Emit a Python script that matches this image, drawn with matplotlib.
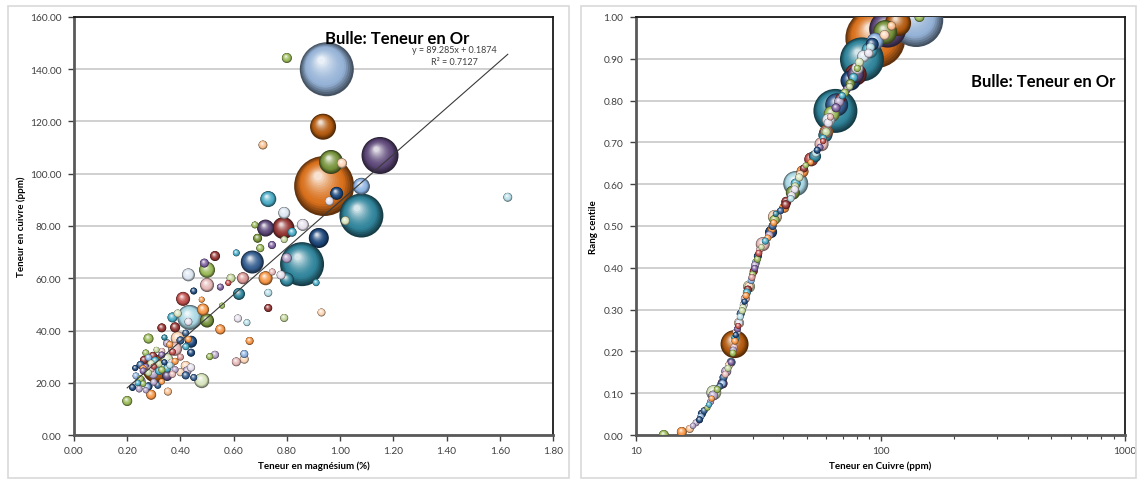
import numpy as np
import matplotlib.pyplot as plt
from matplotlib.colors import to_rgb
from matplotlib.patches import Rectangle
from matplotlib.ticker import FormatStrFormatter, FixedLocator, NullFormatter

plt.rcParams['font.family'] = ['Lato', 'DejaVu Sans']

# magnesium (%), cuivre (ppm), or (g/t) par echantillon
mg = [0.80, 0.95, 0.936, 0.71, 1.15, 0.966, 1.007, 0.94, 1.08, 0.987, 1.63, 0.73, 0.96, 0.79, 1.08,
      1.02, 0.68, 0.86, 0.72, 0.787, 0.82, 0.92, 0.69, 0.79, 0.744, 0.70, 0.61, 0.53,
      0.80, 0.67, 0.49, 0.857, 0.50, 0.745, 0.43, 0.778, 0.59, 0.635, 0.72, 0.80, 0.91, 0.58, 0.50,
      0.55, 0.45, 0.73, 0.62, 0.41, 0.48, 0.556, 0.485, 0.73, 0.93, 0.39, 0.435, 0.37,
      0.79, 0.616, 0.50, 0.65, 0.43, 0.38, 0.33, 0.55, 0.42, 0.34, 0.28, 0.39, 0.43, 0.66,
      0.44, 0.38, 0.44, 0.64, 0.53, 0.27, 0.36, 0.40, 0.33, 0.42, 0.35, 0.37, 0.31,
      0.51, 0.297, 0.64, 0.35, 0.263, 0.305, 0.61, 0.367, 0.33, 0.28, 0.38, 0.29, 0.34, 0.40, 0.32,
      0.25, 0.335, 0.42, 0.31, 0.27, 0.29, 0.36, 0.23, 0.38, 0.33, 0.26, 0.44, 0.30, 0.35,
      0.26, 0.32, 0.425, 0.40, 0.298, 0.42, 0.35, 0.233, 0.45, 0.28, 0.37, 0.25, 0.48,
      0.25, 0.315, 0.275, 0.245, 0.353, 0.29, 0.20, 0.26, 0.30, 0.22, 0.27, 0.24, 0.33, 0.28]
cu = [144.3, 140.0, 118.0, 111.0, 107.0, 104.5, 104.0, 95.3, 95.2, 92.5, 91.0, 90.3, 89.5, 85.0, 84.0,
      82.0, 80.4, 80.4, 79.2, 79.2, 77.6, 75.4, 75.3, 74.8, 72.7, 71.5, 69.7, 68.5,
      67.7, 66.2, 65.8, 65.4, 63.2, 62.4, 61.3, 61.2, 60.0, 60.0, 60.0, 59.5, 58.3, 58.2, 57.4,
      56.6, 55.1, 54.4, 54.0, 52.1, 51.8, 49.5, 48.0, 48.6, 46.9, 46.5, 45.0, 45.0,
      44.8, 44.6, 43.8, 43.0, 43.3, 41.2, 41.0, 40.4, 39.0, 37.3, 36.9, 37.0, 36.6, 36.0,
      35.7, 33.0, 31.5, 31.0, 30.7, 31.4, 34.6, 36.2, 32.0, 33.8, 35.1, 31.8, 32.6,
      30.0, 30.3, 29.0, 29.0, 28.7, 28.4, 28.0, 27.6, 30.6, 29.6, 28.2, 27.4, 27.8, 29.8, 27.2,
      26.8, 26.4, 26.4, 25.3, 26.0, 25.2, 26.7, 25.6, 25.0, 24.9, 25.4, 25.8, 26.2, 25.5,
      24.5, 24.5, 24.5, 24.0, 23.4, 22.8, 22.6, 22.6, 22.0, 23.8, 23.2, 21.5, 20.8,
      20.7, 19.0, 18.4, 17.6, 16.6, 15.4, 13.0, 19.6, 20.2, 18.2, 17.1, 19.9, 20.4, 18.6]
au = [0.25, 7.29, 1.69, 0.20, 3.42, 1.44, 0.25, 9.00, 0.72, 0.42, 0.20, 0.64, 0.20, 0.36, 4.84,
      0.20, 0.12, 0.36, 0.72, 1.21, 0.20, 1.00, 0.20, 0.12, 0.16, 0.16, 0.12, 0.25,
      0.25, 1.32, 0.20, 4.84, 0.64, 0.12, 0.42, 0.20, 0.20, 0.36, 0.49, 0.49, 0.12, 0.09, 0.49,
      0.12, 0.12, 0.16, 0.36, 0.49, 0.09, 0.09, 0.36, 0.16, 0.16, 0.16, 1.56, 0.25,
      0.16, 0.16, 0.49, 0.12, 0.16, 0.25, 0.20, 0.25, 0.12, 0.09, 0.25, 0.49, 0.12, 0.16,
      0.36, 0.49, 0.16, 0.16, 0.16, 0.12, 0.12, 0.16, 0.12, 0.12, 0.16, 0.12, 0.09,
      0.12, 0.16, 0.20, 0.36, 0.16, 0.16, 0.20, 0.16, 0.12, 0.12, 0.12, 0.12, 0.09, 0.12, 0.12,
      0.16, 0.16, 0.25, 1.96, 0.12, 0.12, 0.12, 0.09, 0.12, 0.12, 0.12, 0.16, 0.09, 0.16,
      0.12, 0.16, 0.20, 0.16, 0.25, 0.16, 0.25, 0.12, 0.12, 0.12, 0.12, 0.12, 0.56,
      0.25, 0.12, 0.12, 0.12, 0.16, 0.25, 0.25, 0.09, 0.12, 0.12, 0.09, 0.09, 0.09, 0.16]

palette = {
    'green': '#9BBB59', 'dkgreen': '#77933C', 'ltgreen': '#C3D69B', 'cream': '#D7E4BD',
    'steel': '#95B3D7', 'ltblue': '#8EB4E3', 'blue': '#376092', 'navy': '#1F497D',
    'dkorange': '#B35A10', 'orange': '#F79646', 'bigorange': '#D9701C', 'ltorange': '#FAC090',
    'peach': '#FCD5B5', 'purple': '#8064A2', 'dkpurple': '#5F497A', 'lavender': '#B3A2C7',
    'wlav': '#E6E0EC', 'aqua': '#4BACC6', 'teal': '#31859C', 'ltcyan': '#A9D8E4',
    'palecyan': '#B7DEE8', 'red': '#C0504D', 'dkred': '#953735', 'rose': '#D99694',
    'pink': '#E6B9B8', 'white': '#DCE6F2',
}
teinte = ['green', 'steel', 'dkorange', 'ltorange', 'dkpurple', 'dkgreen', 'peach', 'bigorange',
          'ltblue', 'navy', 'palecyan', 'aqua', 'wlav', 'white', 'teal',
          'cream', 'green', 'wlav', 'dkpurple', 'dkred', 'aqua', 'navy', 'dkgreen', 'ltgreen',
          'purple', 'green', 'aqua', 'dkred',
          'lavender', 'blue', 'purple', 'teal', 'green', 'pink', 'white', 'wlav', 'ltgreen', 'rose',
          'orange', 'teal', 'aqua', 'red', 'pink',
          'purple', 'navy', 'palecyan', 'teal', 'red', 'orange', 'green', 'orange', 'dkred', 'peach',
          'cream', 'ltcyan', 'aqua',
          'ltgreen', 'wlav', 'dkgreen', 'palecyan', 'wlav', 'dkred', 'dkred', 'orange', 'blue', 'teal',
          'green', 'peach', 'orange', 'orange',
          'navy', 'pink', 'navy', 'ltblue', 'lavender', 'green', 'orange', 'blue', 'pink', 'aqua',
          'lavender', 'red', 'ltgreen',
          'green', 'dkred', 'peach', 'cream', 'dkred', 'aqua', 'pink', 'wlav', 'purple', 'ltblue',
          'orange', 'cream', 'navy', 'rose', 'ltgreen',
          'blue', 'white', 'peach', 'dkorange', 'purple', 'pink', 'palecyan', 'navy', 'lavender',
          'green', 'orange', 'wlav', 'red', 'aqua',
          'purple', 'aqua', 'lavender', 'peach', 'lavender', 'blue', 'dkpurple', 'ltblue', 'blue',
          'ltgreen', 'pink', 'green', 'cream',
          'lavender', 'blue', 'ltblue', 'lavender', 'ltorange', 'orange', 'green', 'green',
          'lavender', 'navy', 'lavender', 'aqua', 'orange', 'navy']

pente, origine, r2 = 89.285, 0.1874, 0.7127

W, H = 1138, 481
fig = plt.figure(figsize=(W / 100, H / 100), dpi=100)
fig.patch.set_facecolor('white')


def frac(x0, y0, x1, y1):
    return [x0 / W, 1 - y1 / H, (x1 - x0) / W, (y1 - y0) / H]


# cadres gris des deux graphiques
for x0, x1 in [(8, 569), (581, 1136)]:
    fig.add_artist(Rectangle((x0 / W, 1 - 479 / H), (x1 - x0) / W, 472 / H,
                             transform=fig.transFigure, fill=False,
                             edgecolor='#D9D9D9', lw=1.2))

ax1 = fig.add_axes(frac(74, 18, 553, 436))
ax2 = fig.add_axes(frac(636, 18, 1125, 436))

ax1.set_xlim(0, 1.8)
ax1.set_ylim(0, 160)
ax1.set_xticks(np.arange(0, 1.81, 0.2))
ax1.set_yticks(np.arange(0, 161, 20))
ax1.xaxis.set_major_formatter(FormatStrFormatter('%.2f'))
ax1.yaxis.set_major_formatter(FormatStrFormatter('%.2f'))

ax2.set_xscale('log')
ax2.set_xlim(10, 1000)
ax2.set_ylim(0, 1)
ax2.set_yticks(np.arange(0, 1.01, 0.1))
ax2.yaxis.set_major_formatter(FormatStrFormatter('%.2f'))
ax2.xaxis.set_major_locator(FixedLocator([10, 100, 1000]))
ax2.set_xticklabels(['10', '100', '1000'])
ax2.xaxis.set_minor_formatter(NullFormatter())

for ax in (ax1, ax2):
    ax.grid(axis='y', color='#C8C8C8', lw=1.2, zorder=0)
    ax.set_axisbelow(True)
    ax.tick_params(labelsize=7.3, colors='#404040', length=4, width=1, pad=5)
    ax.tick_params(which='minor', length=3, width=0.8, colors='#404040')
    ax.tick_params(axis='x', pad=4)
    for s in ('left', 'bottom'):
        ax.spines[s].set_color('#595959')
        ax.spines[s].set_linewidth(2)
    for s in ('top', 'right'):
        ax.spines[s].set_color('#1A1A1A')
        ax.spines[s].set_linewidth(1.3)


def bulles(ax, xs, ys, tailles, couleurs, dmax=60, n=16):
    # bulles a effet 3D : disques superposes, de la bordure sombre au reflet clair
    pts = ax.transData.transform(np.column_stack([xs, ys]))
    tailles = np.asarray(tailles, float)
    d = dmax * np.sqrt(tailles / tailles.max())
    off, sz, cc = [], [], []
    for i in np.argsort(-d, kind='stable'):
        R = d[i] / 2
        base = np.array(to_rgb(palette[couleurs[i]]))
        for t in np.linspace(0, 1, n):
            r = R * (1 - 0.86 * t)
            off.append(pts[i] + t * np.array([-0.2 * R, 0.33 * R]))
            sz.append((2 * r * 72 / fig.dpi) ** 2)
            if t < 0.3:
                c = base * (0.45 + 0.55 * t / 0.3)
            else:
                c = base + (1 - base) * 0.8 * ((t - 0.3) / 0.7) ** 1.6
            cc.append(np.clip(c, 0, 1))
    xy = ax.transData.inverted().transform(np.array(off))
    ax.scatter(xy[:, 0], xy[:, 1], s=sz, c=cc, linewidths=0, zorder=3)


# nuage Cu / Mg avec droite de tendance
bulles(ax1, mg, cu, au, teinte)
xt = np.array([min(mg), max(mg)])
ax1.plot(xt, pente * xt + origine, color='#3A3A3A', lw=0.8, zorder=4)
ax1.text(0.795, 0.923, 'y = %.3fx + %.4f' % (pente, origine), transform=ax1.transAxes,
         ha='center', va='center', fontsize=6.5, color='#404040', zorder=5)
ax1.text(0.795, 0.894, 'R² = %.4f' % r2, transform=ax1.transAxes,
         ha='center', va='center', fontsize=6.5, color='#404040', zorder=5)
ax1.text(0.674, 0.950, 'Bulle: Teneur en Or', transform=ax1.transAxes, ha='center',
         va='center', fontsize=12, fontweight='bold', color='black', zorder=5)
ax1.set_xlabel('Teneur en magnésium (%)', fontsize=7, fontweight='bold', labelpad=4)
ax1.set_ylabel('Teneur en cuivre (ppm)', fontsize=7, fontweight='bold', labelpad=3)

# rang centile du cuivre
cu_arr = np.asarray(cu)
rang = np.array([np.sum(cu_arr < v) for v in cu_arr]) / (len(cu_arr) - 1)
bulles(ax2, cu, rang, au, teinte)
ax2.text(0.832, 0.847, 'Bulle: Teneur en Or', transform=ax2.transAxes, ha='center',
         va='center', fontsize=12, fontweight='bold', color='black', zorder=5)
ax2.set_xlabel('Teneur en Cuivre (ppm)', fontsize=7, fontweight='bold', labelpad=4)
ax2.set_ylabel('Rang centile', fontsize=7, fontweight='bold', labelpad=4)

fig.savefig('out.png', dpi=100)
